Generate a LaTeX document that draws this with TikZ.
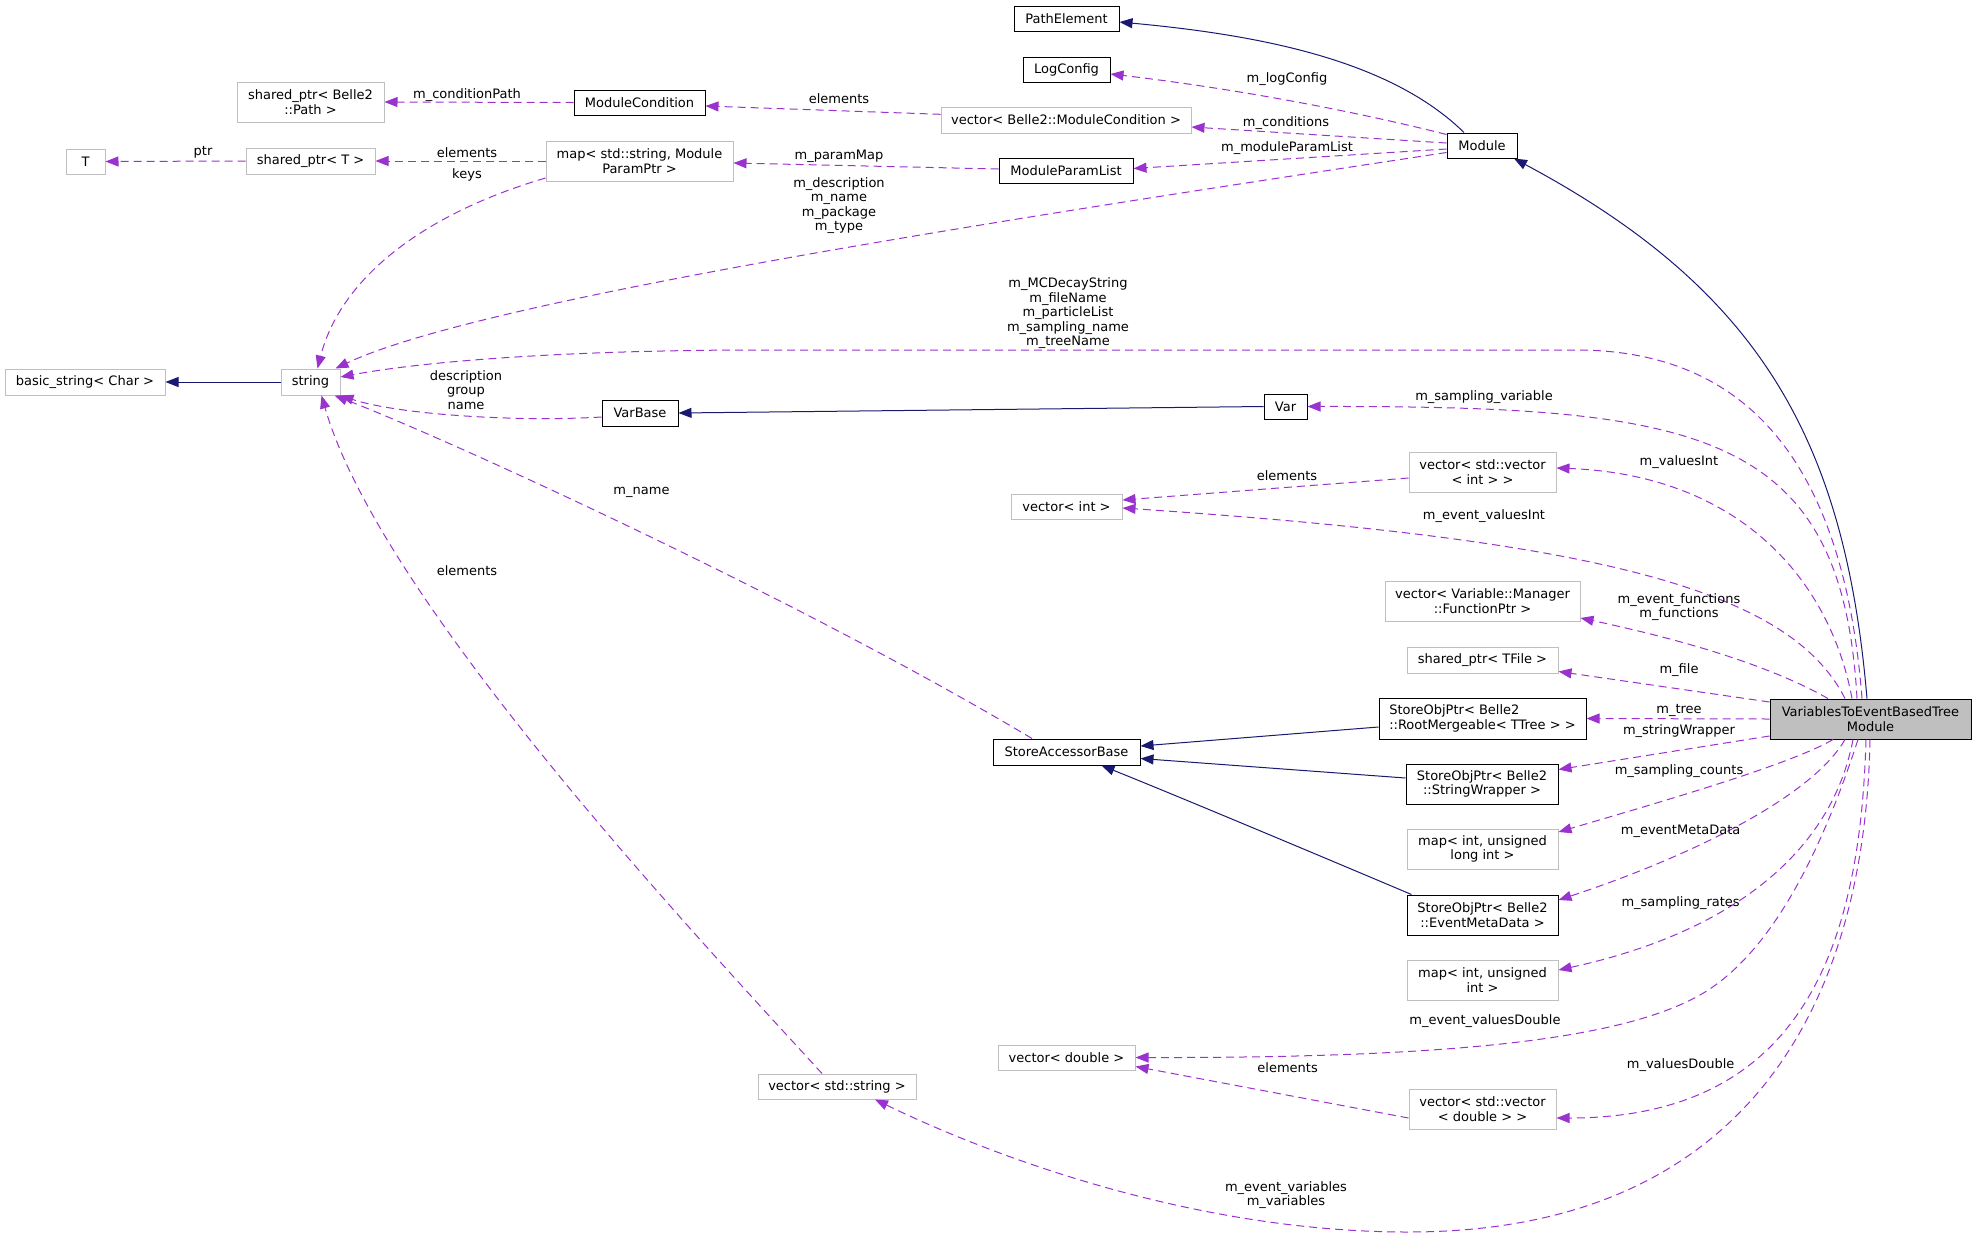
\documentclass[tikz,border=0pt]{standalone}
\usepackage{fontspec}
\setmainfont{DejaVu Sans}
\usetikzlibrary{arrows.meta}
\definecolor{usecol}{HTML}{9A32CD}
\definecolor{inhcol}{HTML}{191970}
\definecolor{grayb}{HTML}{BFBFBF}
\begin{document}
\begin{tikzpicture}[x=1pt,y=-1pt,font=\fontsize{13}{14.5}\selectfont,
  box/.style={line width=1pt,fill=white,inner sep=0pt,align=center},
  cls/.style={box,draw=black},
  ext/.style={box,draw=grayb},
  inh/.style={draw=inhcol,line width=1pt,-{Triangle[length=13pt,width=10pt]}},
  use/.style={draw=usecol,line width=1pt,dash pattern=on 8pt off 5pt,-{Triangle[length=13pt,width=10pt]}},
  lbl/.style={inner sep=0pt,align=center}]
\useasboundingbox (0,0) rectangle (1976,1235);
% nodes
\node[cls,minimum width=105pt,minimum height=25pt] (PathElement) at (1066.5,18.5) {PathElement};
\node[cls,minimum width=87pt,minimum height=25pt] (LogConfig) at (1066.5,69.5) {LogConfig};
\node[ext,minimum width=250pt,minimum height=26pt] (vecModCond) at (1066,120) {vector< Belle2::ModuleCondition >};
\node[cls,minimum width=134pt,minimum height=25pt] (ModuleParamList) at (1066,170.5) {ModuleParamList};
\node[cls,minimum width=70pt,minimum height=25pt] (Module) at (1482,145.5) {Module};
\node[cls,minimum width=131pt,minimum height=25pt] (ModuleCondition) at (639.5,102.5) {ModuleCondition};
\node[ext,minimum width=147pt,minimum height=40pt] (sharedPath) at (310.5,102) {shared\_ptr< Belle2\\::Path >};
\node[ext,minimum width=39pt,minimum height=25pt] (T) at (85.5,161.5) {T};
\node[ext,minimum width=129pt,minimum height=26pt] (sharedT) at (310.5,161) {shared\_ptr< T >};
\node[ext,minimum width=187pt,minimum height=40pt] (mapParam) at (639.5,161) {map< std::string, Module\\ParamPtr >};
\node[ext,minimum width=160pt,minimum height=26pt] (basicstring) at (85,382) {basic\_string< Char >};
\node[ext,minimum width=59pt,minimum height=26pt] (string) at (310.5,382) {string};
\node[cls,minimum width=76pt,minimum height=26pt] (VarBase) at (640,413) {VarBase};
\node[cls,minimum width=43pt,minimum height=25pt] (Var) at (1285.5,406.5) {Var};
\node[ext,minimum width=147pt,minimum height=40pt] (vecvecint) at (1482.5,472) {vector< std::vector\\< int > >};
\node[ext,minimum width=111pt,minimum height=25pt] (vecint) at (1066.5,506.5) {vector< int >};
\node[ext,minimum width=195pt,minimum height=40pt] (vecFunc) at (1482.5,601) {vector< Variable::Manager\\::FunctionPtr >};
\node[ext,minimum width=151pt,minimum height=26pt] (sharedTFile) at (1482.5,660) {shared\_ptr< TFile >};
\node[cls,minimum width=207pt,minimum height=41pt,align=left] (SOPRoot) at (1482.5,718.5) {StoreObjPtr< Belle2\\::RootMergeable< TTree > >};
\node[cls,minimum width=147pt,minimum height=26pt] (SAB) at (1066.5,752) {StoreAccessorBase};
\node[cls,minimum width=152pt,minimum height=40pt] (SOPString) at (1482,784) {StoreObjPtr< Belle2\\::StringWrapper >};
\node[box,draw=black,fill=grayb,minimum width=201pt,minimum height=40pt] (VTEBT) at (1870.5,719) {VariablesToEventBasedTree\\Module};
\node[ext,minimum width=151pt,minimum height=40pt] (mapLong) at (1482.5,849) {map< int, unsigned\\long int >};
\node[cls,minimum width=151pt,minimum height=40pt] (SOPEvent) at (1482.5,915) {StoreObjPtr< Belle2\\::EventMetaData >};
\node[ext,minimum width=151pt,minimum height=40pt] (mapInt) at (1482.5,980) {map< int, unsigned\\int >};
\node[ext,minimum width=137pt,minimum height=25pt] (vecdouble) at (1066.5,1057.5) {vector< double >};
\node[ext,minimum width=147pt,minimum height=40pt] (vecvecdouble) at (1482.5,1109) {vector< std::vector\\< double > >};
\node[ext,minimum width=158pt,minimum height=25pt] (vecstring) at (837,1086.5) {vector< std::string >};
% inheritance
\draw[inh] ([xshift=-18pt]Module.north) .. controls (1390,60) and (1260,35) .. ([yshift=-3.5pt]PathElement.east);
\draw[inh] ([xshift=-3.5pt]VTEBT.north) .. controls (1845,440) and (1760,290) .. ([xshift=32pt]Module.south);
\draw[inh] (Var.west) -- (VarBase.east);
\draw[inh] (string.west) -- (basicstring.east);
\draw[inh] ([yshift=-8.5pt]SOPRoot.west) -- ([yshift=6pt]SAB.east);
\draw[inh] ([yshift=6pt]SOPString.west) -- ([yshift=-6.5pt]SAB.east);
\draw[inh] ([xshift=5pt]SOPEvent.north west) .. controls (1330,860) and (1180,797) .. ([xshift=35pt]SAB.south);
% usage
\draw[use] (ModuleCondition.west) -- (sharedPath.east);
\draw[use] ([yshift=5.7pt]vecModCond.west) -- ([yshift=-3.5pt]ModuleCondition.east);
\draw[use] ([yshift=11pt]Module.west) .. controls (1350,110) and (1230,88) .. ([yshift=-4.5pt]LogConfig.east);
\draw[use] ([yshift=2.5pt]Module.west) -- ([yshift=-7pt]vecModCond.east);
\draw[use] ([yshift=-3.5pt]Module.west) -- ([yshift=2pt]ModuleParamList.east);
\draw[use] ([yshift=1.5pt]ModuleParamList.west) -- ([yshift=-2pt]mapParam.east);
\draw[use] (mapParam.west) -- (sharedT.east);
\draw[use] (sharedT.west) -- (T.east);
\draw[use] ([yshift=-17pt]mapParam.west) .. controls (420,215) and (340,280) .. ([xshift=7pt]string.north);
\draw[use] ([yshift=-7pt]Module.west) .. controls (1000,220) and (480,300) .. ([xshift=-5pt]string.north east);
\draw[use] ([xshift=-8.5pt]VTEBT.north) .. controls (1845,480) and (1760,352) .. (1580,350) -- (760,350) .. controls (560,350) and (420,362) .. ([yshift=5pt]string.east);
\draw[use] ([xshift=-13.5pt]VTEBT.north) .. controls (1842,430) and (1700,406) .. (Var.east);
\draw[use] ([xshift=-18.5pt]VTEBT.north) .. controls (1830,580) and (1740,475) .. ([yshift=4pt]vecvecint.east);
\draw[use] ([yshift=-6pt]vecvecint.west) -- ([yshift=6.5pt]vecint.east);
\draw[use] ([xshift=-25.5pt]VTEBT.north) .. controls (1790,590) and (1600,540) .. ([yshift=-1.5pt]vecint.east);
\draw[use] ([xshift=-42.5pt]VTEBT.north) .. controls (1760,660) and (1660,635) .. ([yshift=-17pt]vecFunc.east);
\draw[use] ([yshift=17pt]VTEBT.west) -- ([yshift=-11.5pt]sharedTFile.east);
\draw[use] (VTEBT.west) -- (SOPRoot.east);
\draw[use] ([yshift=-17pt]VTEBT.west) -- ([yshift=14.5pt]SOPString.east);
\draw[use] ([xshift=-37.5pt]VTEBT.south) .. controls (1790,765) and (1650,805) .. ([yshift=17pt]mapLong.east);
\draw[use] ([xshift=-25.5pt]VTEBT.south) .. controls (1810,800) and (1680,860) .. ([yshift=15pt]SOPEvent.east);
\draw[use] ([xshift=-17.5pt]VTEBT.south) .. controls (1830,860) and (1720,935) .. ([yshift=10pt]mapInt.east);
\draw[use] ([xshift=-12.5pt]VTEBT.south) .. controls (1822,850) and (1772,954) .. (1700,995) .. controls (1620,1040) and (1450,1058) .. (vecdouble.east);
\draw[use] ([yshift=-9pt]vecvecdouble.west) -- ([yshift=-9pt]vecdouble.east);
\draw[use] ([xshift=-4.5pt]VTEBT.south) .. controls (1860,950) and (1800,1118) .. ([yshift=-9pt]vecvecdouble.east);
\draw[use] ([xshift=-0.5pt]VTEBT.south) .. controls (1865,1000) and (1750,1232) .. (1408,1232) .. controls (1200,1232) and (1000,1160) .. ([xshift=38pt]vecstring.south);
\draw[use] ([yshift=-4pt]VarBase.west) .. controls (520,422) and (400,415) .. (string.south east);
\draw[use] ([xshift=-34.5pt]SAB.north) .. controls (800,600) and (450,440) .. ([xshift=-6pt]string.south east);
\draw[use] ([xshift=-15pt]vecstring.north) .. controls (700,940) and (380,600) .. ([xshift=11pt]string.south);
% labels
\node[lbl] (l1) at (467,95) {m\_conditionPath};
\node[lbl] (l2) at (839,99) {elements};
\node[lbl] (l3) at (1287,79) {m\_logConfig};
\node[lbl] (l4) at (1286,122.7) {m\_conditions};
\node[lbl] (l5) at (1287,148.3) {m\_moduleParamList};
\node[lbl] (l6) at (839,156.7) {m\_paramMap};
\node[lbl] (l7) at (467,152.7) {elements};
\node[lbl] (l8) at (203,152.7) {ptr};
\node[lbl] (l9) at (467,175) {keys};
\node[lbl] (l10) at (839,205.5) {m\_description\\m\_name\\m\_package\\m\_type};
\node[lbl] (l11) at (1068,313.5) {m\_MCDecayString\\m\_fileName\\m\_particleList\\m\_sampling\_name\\m\_treeName};
\node[lbl] (l12) at (1484,396.7) {m\_sampling\_variable};
\node[lbl] (l13) at (466,390) {description\\group\\name};
\node[lbl] (l14) at (1287,475.7) {elements};
\node[lbl] (l15) at (1679,462) {m\_valuesInt};
\node[lbl] (l16) at (1484,515.7) {m\_event\_valuesInt};
\node[lbl] (l17) at (641.5,492.7) {m\_name};
\node[lbl] (l18) at (467,570.7) {elements};
\node[lbl] (l19) at (1679,607) {m\_event\_functions\\m\_functions};
\node[lbl] (l20) at (1679,670) {m\_file};
\node[lbl] (l21) at (1679,710.7) {m\_tree};
\node[lbl] (l22) at (1679,730.7) {m\_stringWrapper};
\node[lbl] (l23) at (1679,771) {m\_sampling\_counts};
\node[lbl] (l24) at (1680.6,831.7) {m\_eventMetaData};
\node[lbl] (l25) at (1680.6,903) {m\_sampling\_rates};
\node[lbl] (l26) at (1485,1020.7) {m\_event\_valuesDouble};
\node[lbl] (l27) at (1287.6,1067.7) {elements};
\node[lbl] (l28) at (1680.6,1065) {m\_valuesDouble};
\node[lbl] (l29) at (1286,1195) {m\_event\_variables\\m\_variables};
\end{tikzpicture}
\end{document}
